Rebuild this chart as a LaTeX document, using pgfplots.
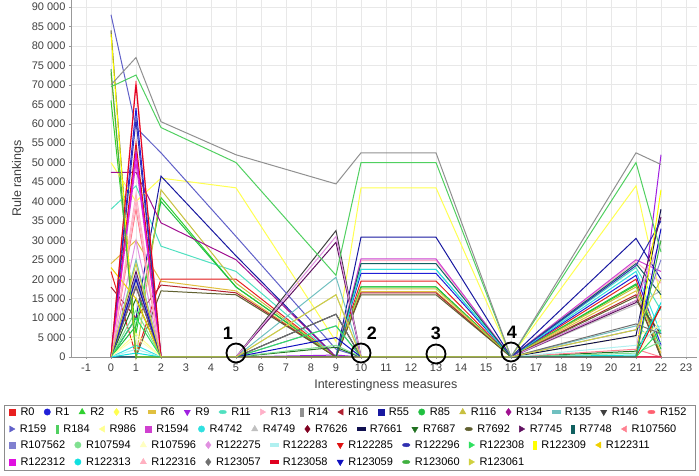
\documentclass[border=0pt]{standalone}
\usepackage{fontspec}
\setmainfont{Liberation Sans}
\usepackage{pgfplots}
\pgfplotsset{compat=1.18}
\usetikzlibrary{calc}

% series colours
\definecolor{cR0}{HTML}{E82020}
\definecolor{cR1}{HTML}{2020D8}
\definecolor{cR2}{HTML}{30D030}
\definecolor{cR5}{HTML}{FFFF50}
\definecolor{cR6}{HTML}{E0C040}
\definecolor{cR9}{HTML}{A020E0}
\definecolor{cR11}{HTML}{50E0C0}
\definecolor{cR13}{HTML}{FFB0C8}
\definecolor{cR14}{HTML}{909090}
\definecolor{cR16}{HTML}{B02030}
\definecolor{cR55}{HTML}{1818A0}
\definecolor{cR85}{HTML}{20C040}
\definecolor{cR116}{HTML}{C8C040}
\definecolor{cR134}{HTML}{A01090}
\definecolor{cR135}{HTML}{70C0C0}
\definecolor{cR146}{HTML}{404040}
\definecolor{cR152}{HTML}{FF6070}
\definecolor{cR159}{HTML}{6060C8}
\definecolor{cR184}{HTML}{50D060}
\definecolor{cR986}{HTML}{FFFF90}
\definecolor{cR1594}{HTML}{D040D0}
\definecolor{cR4742}{HTML}{30E0E0}
\definecolor{cR4749}{HTML}{C0C0C0}
\definecolor{cR7626}{HTML}{800020}
\definecolor{cR7661}{HTML}{101050}
\definecolor{cR7687}{HTML}{207020}
\definecolor{cR7692}{HTML}{606030}
\definecolor{cR7745}{HTML}{601060}
\definecolor{cR7748}{HTML}{106060}
\definecolor{cR107560}{HTML}{FF8090}
\definecolor{cR107562}{HTML}{8080D0}
\definecolor{cR107594}{HTML}{80E090}
\definecolor{cR107596}{HTML}{FFFFC0}
\definecolor{cR122275}{HTML}{E090E0}
\definecolor{cR122283}{HTML}{B0F0F0}
\definecolor{cR122285}{HTML}{E01010}
\definecolor{cR122296}{HTML}{3030B0}
\definecolor{cR122308}{HTML}{30E060}
\definecolor{cR122309}{HTML}{FFFF00}
\definecolor{cR122311}{HTML}{F0D000}
\definecolor{cR122312}{HTML}{E010E0}
\definecolor{cR122313}{HTML}{10E0E0}
\definecolor{cR122316}{HTML}{FFB0C0}
\definecolor{cR123057}{HTML}{707070}
\definecolor{cR123058}{HTML}{E00020}
\definecolor{cR123059}{HTML}{1010C0}
\definecolor{cR123060}{HTML}{40B040}
\definecolor{cR123061}{HTML}{D0D040}
\definecolor{txt}{HTML}{404040}

\pgfplotsset{
  msq/.style={mark=square*, mark size=3pt},
  mci/.style={mark=*, mark size=3.2pt},
  mtu/.style={mark=triangle*, mark size=3.6pt},
  mdi/.style={mark=diamond*, mark size=3.6pt},
  mhr/.style={mark=square*, mark size=3pt, mark options={xscale=1.3,yscale=0.45}},
  mtd/.style={mark=triangle*, mark size=3.6pt, mark options={rotate=180}},
  mel/.style={mark=*, mark size=3pt, mark options={xscale=1.25,yscale=0.6}},
  mtr/.style={mark=triangle*, mark size=3.6pt, mark options={rotate=-90}},
  mvr/.style={mark=square*, mark size=3pt, mark options={xscale=0.45,yscale=1.3}},
  mtl/.style={mark=triangle*, mark size=3.6pt, mark options={rotate=90}},
  legrow/.style={
    at={(0,0)}, anchor=south west, scale only axis,
    width=626pt, height=357pt, hide axis,
    xmin=0, xmax=1, ymin=0, ymax=1,
    legend columns=-1,
    legend image code/.code={\draw[##1] plot coordinates {(0pt,0pt)};},
    legend style={draw=none, fill=none, inner sep=0pt, outer sep=0pt,
      anchor=west, at={(axis description cs:-0.0982,#1)},
      font=\fontsize{11}{13}\selectfont,
      nodes={inner sep=1.5pt},
      /tikz/every odd column/.append style={column sep=3.5pt},
      /tikz/every even column/.append style={column sep=8pt}},
  },
}
\newcommand{\li}[2]{\addlegendimage{only marks,color=c#1,m#2}\addlegendentry{#1}}

\begin{document}
\begin{tikzpicture}
\useasboundingbox (-71pt,-119pt) rectangle (628pt,357pt);
\begin{axis}[
  at={(0,0)}, anchor=south west,
  scale only axis, width=626pt, height=357pt,
  xmin=-1.6, xmax=23.44, ymin=0, ymax=91800,
  xtick={-1,0,...,23}, ytick={0,5000,...,90000},
  grid=major, grid style={draw=black!9, line width=0.6pt},
  axis x line*=bottom, axis y line*=left,
  axis line style={draw=black!40, line width=0.8pt, -},
  tick align=outside, major tick length=2pt, tick style={draw=black!40},
  scaled y ticks=false,
  /pgf/number format/1000 sep={\ },
  /pgf/number format/assume math mode=true,
  tick label style={font=\fontsize{11}{13}\selectfont, text=txt},
  xticklabel style={yshift=-1pt},
  xlabel={Interestingness measures},
  ylabel={Rule rankings},
  label style={font=\fontsize{12.5}{14}\selectfont, text=txt},
  xlabel style={at={(axis description cs:0.503,-0.078)}, anchor=center},
  ylabel style={at={(axis description cs:-0.085,0.5)}, anchor=center},
  no markers, clip=false,
  every axis plot/.append style={line width=1pt},
]
\addplot[cR0] coordinates {(0,22000)(1,500)(2,20000)(5,20000)(9,0)(10,19500)(13,19500)(16,0)(21,20000)(22,0)};
\addplot[cR1] coordinates {(0,0)(1,64000)(2,0)(5,0)(9,0)(10,21500)(13,21500)(16,0)(21,21000)(22,3000)};
\addplot[cR2] coordinates {(0,66000)(1,6000)(2,41000)(5,18000)(9,0)(10,18000)(13,18000)(16,0)(21,18500)(22,0)};
\addplot[cR5] coordinates {(0,50000)(1,40000)(2,46000)(5,43500)(9,4000)(10,43500)(13,43500)(16,0)(21,44000)(22,15000)};
\addplot[cR6] coordinates {(0,24000)(1,30000)(2,19500)(5,17000)(9,0)(10,16800)(13,16800)(16,0)(21,17000)(22,1000)};
\addplot[cR9] coordinates {(0,0)(1,53000)(2,0)(5,0)(9,500)(10,0)(13,0)(16,0)(21,0)(22,52000)};
\addplot[cR11] coordinates {(0,38000)(1,44000)(2,28500)(5,22000)(9,0)(10,22500)(13,22500)(16,0)(21,23000)(22,12000)};
\addplot[cR13] coordinates {(0,0)(1,42000)(2,0)(5,0)(9,0)(10,24800)(13,24800)(16,0)(21,24500)(22,19000)};
\addplot[cR16] coordinates {(0,18000)(1,10000)(2,18500)(5,16500)(9,0)(10,16500)(13,16500)(16,0)(21,16000)(22,0)};
\addplot[cR55] coordinates {(0,0)(1,10000)(2,46500)(5,26000)(9,0)(10,30800)(13,30800)(16,0)(21,30500)(22,20000)};
\addplot[cR85] coordinates {(0,0)(1,8000)(2,40000)(5,18000)(9,0)(10,18000)(13,18000)(16,0)(21,18800)(22,2000)};
\addplot[cR116] coordinates {(0,73000)(1,0)(2,43000)(5,19000)(9,0)(10,17500)(13,17500)(16,0)(21,18000)(22,5000)};
\addplot[cR134] coordinates {(0,47500)(1,47500)(2,34500)(5,25000)(9,0)(10,0)(13,0)(16,0)(21,0)(22,0)};
\addplot[cR135] coordinates {(0,0)(1,25000)(2,0)(5,0)(9,20500)(10,0)(13,0)(16,0)(21,8000)(22,3000)};
\addplot[cR146] coordinates {(0,0)(1,20000)(2,0)(5,0)(9,32500)(10,0)(13,0)(16,0)(21,14500)(22,6000)};
\addplot[cR152] coordinates {(0,0)(1,71000)(2,0)(5,0)(9,0)(10,0)(13,0)(16,0)(21,0)(22,0)};
\addplot[cR159] coordinates {(0,88000)(1,59000)(2,52500)(5,31000)(9,2000)(10,0)(13,0)(16,0)(21,0)(22,0)};
\addplot[cR986] coordinates {(0,0)(1,6000)(2,0)(5,0)(9,11000)(10,0)(13,0)(16,0)(21,5500)(22,8000)};
\addplot[cR1594] coordinates {(0,0)(1,50000)(2,0)(5,0)(9,0)(10,25200)(13,25200)(16,0)(21,25000)(22,22000)};
\addplot[cR4742] coordinates {(0,0)(1,3000)(2,0)(5,0)(9,0)(10,22500)(13,22500)(16,0)(21,22000)(22,6000)};
\addplot[cR4749] coordinates {(0,0)(1,19000)(2,0)(5,0)(9,16000)(10,0)(13,0)(16,0)(21,13500)(22,17000)};
\addplot[cR7626] coordinates {(0,0)(1,18000)(2,0)(5,0)(9,0)(10,0)(13,0)(16,0)(21,0)(22,0)};
\addplot[cR7661] coordinates {(0,0)(1,0)(2,0)(5,0)(9,11000)(10,0)(13,0)(16,0)(21,5500)(22,38000)};
\addplot[cR7687] coordinates {(0,0)(1,15000)(2,0)(5,0)(9,2500)(10,0)(13,0)(16,0)(21,1500)(22,13000)};
\addplot[cR7692] coordinates {(0,84000)(1,0)(2,17000)(5,16000)(9,0)(10,16000)(13,16000)(16,0)(21,15500)(22,0)};
\addplot[cR7745] coordinates {(0,0)(1,22000)(2,0)(5,0)(9,29500)(10,0)(13,0)(16,0)(21,14000)(22,36000)};
\addplot[cR7748] coordinates {(0,0)(1,0)(2,0)(5,0)(9,0)(10,24000)(13,24000)(16,0)(21,24000)(22,16000)};
\addplot[cR107560] coordinates {(0,0)(1,38000)(2,0)(5,0)(9,0)(10,0)(13,0)(16,0)(21,2000)(22,0)};
\addplot[cR107562] coordinates {(0,0)(1,21000)(2,0)(5,0)(9,8000)(10,0)(13,0)(16,0)(21,7000)(22,25000)};
\addplot[cR107594] coordinates {(0,0)(1,12000)(2,0)(5,0)(9,3000)(10,0)(13,0)(16,0)(21,1000)(22,4000)};
\addplot[cR107596] coordinates {(0,0)(1,5000)(2,0)(5,0)(9,0)(10,0)(13,0)(16,0)(21,0)(22,10000)};
\addplot[cR122275] coordinates {(0,0)(1,30000)(2,0)(5,0)(9,31000)(10,0)(13,0)(16,0)(21,14500)(22,30000)};
\addplot[cR122283] coordinates {(0,0)(1,2000)(2,0)(5,0)(9,0)(10,0)(13,0)(16,0)(21,3000)(22,8000)};
\addplot[cR122285] coordinates {(0,0)(1,55000)(2,0)(5,0)(9,0)(10,0)(13,0)(16,0)(21,0)(22,13000)};
\addplot[cR122296] coordinates {(0,0)(1,61000)(2,0)(5,0)(9,0)(10,0)(13,0)(16,0)(21,23500)(22,35000)};
\addplot[cR122308] coordinates {(0,0)(1,10000)(2,0)(5,0)(9,8000)(10,0)(13,0)(16,0)(21,0)(22,7000)};
\addplot[cR122309] coordinates {(0,83000)(1,0)(2,0)(5,0)(9,0)(10,0)(13,0)(16,0)(21,0)(22,43000)};
\addplot[cR122311] coordinates {(0,23000)(1,15000)(2,0)(5,0)(9,0)(10,0)(13,0)(16,0)(21,0)(22,0)};
\addplot[cR122312] coordinates {(0,0)(1,52000)(2,0)(5,0)(9,0)(10,0)(13,0)(16,0)(21,0)(22,0)};
\addplot[cR122313] coordinates {(0,0)(1,1000)(2,0)(5,0)(9,0)(10,0)(13,0)(16,0)(21,500)(22,14000)};
\addplot[cR122316] coordinates {(0,0)(1,40000)(2,0)(5,0)(9,0)(10,0)(13,0)(16,0)(21,0)(22,0)};
\addplot[cR123057] coordinates {(0,0)(1,18000)(2,0)(5,0)(9,11000)(10,0)(13,0)(16,0)(21,8500)(22,6000)};
\addplot[cR123058] coordinates {(0,0)(1,70000)(2,0)(5,0)(9,0)(10,0)(13,0)(16,0)(21,0)(22,0)};
\addplot[cR123059] coordinates {(0,0)(1,20000)(2,0)(5,0)(9,5000)(10,0)(13,0)(16,0)(21,0)(22,33000)};
\addplot[cR123060] coordinates {(0,74000)(1,0)(2,0)(5,0)(9,0)(10,0)(13,0)(16,0)(21,0)(22,30000)};
\addplot[cR123061] coordinates {(0,0)(1,24000)(2,0)(5,0)(9,16000)(10,0)(13,0)(16,0)(21,7000)(22,20000)};
\addplot[cR184] coordinates {(0,69500)(1,72500)(2,59000)(5,50000)(9,21000)(10,50000)(13,50000)(16,0)(21,50000)(22,27000)};
\addplot[cR14] coordinates {(0,70000)(1,77000)(2,60500)(5,52000)(9,44500)(10,52500)(13,52500)(16,0)(21,52500)(22,49500)};
% numbered markers
\begin{scope}[line width=1.8pt, font=\bfseries\fontsize{18}{18}\selectfont]
\draw ($(axis cs:5,0)+(0pt,4pt)$) circle (9.5pt);
\node at ($(axis cs:5,0)+(-8pt,24pt)$) {1};
\draw ($(axis cs:10,0)+(0pt,4pt)$) circle (9.5pt);
\node at ($(axis cs:10,0)+(11pt,24pt)$) {2};
\draw ($(axis cs:13,0)+(0pt,3pt)$) circle (9.5pt);
\node at ($(axis cs:13,0)+(0pt,24pt)$) {3};
\draw ($(axis cs:16,0)+(0pt,5pt)$) circle (9.5pt);
\node at ($(axis cs:16,0)+(1pt,25pt)$) {4};
\end{scope}
\end{axis}

% legend, four rows
\begin{axis}[legrow=-0.1541]
\li{R0}{sq}\li{R1}{ci}\li{R2}{tu}\li{R5}{di}\li{R6}{hr}\li{R9}{td}
\li{R11}{el}\li{R13}{tr}\li{R14}{vr}\li{R16}{tl}\li{R55}{sq}\li{R85}{ci}
\li{R116}{tu}\li{R134}{di}\li{R135}{hr}\li{R146}{td}\li{R152}{el}
\end{axis}
\begin{axis}[legrow=-0.2017]
\li{R159}{tr}\li{R184}{vr}\li{R986}{tl}\li{R1594}{sq}\li{R4742}{ci}
\li{R4749}{tu}\li{R7626}{di}\li{R7661}{hr}\li{R7687}{td}\li{R7692}{el}
\li{R7745}{tr}\li{R7748}{vr}\li{R107560}{tl}
\end{axis}
\begin{axis}[legrow=-0.2465]
\li{R107562}{sq}\li{R107594}{ci}\li{R107596}{tu}\li{R122275}{di}
\li{R122283}{hr}\li{R122285}{td}\li{R122296}{el}\li{R122308}{tr}
\li{R122309}{vr}\li{R122311}{tl}
\end{axis}
\begin{axis}[legrow=-0.2941]
\li{R122312}{sq}\li{R122313}{ci}\li{R122316}{tu}\li{R123057}{di}
\li{R123058}{hr}\li{R123059}{td}\li{R123060}{el}\li{R123061}{tr}
\end{axis}
\draw[black!45, line width=0.8pt] (-67pt,-48pt) rectangle (624pt,-113pt);
\end{tikzpicture}
\end{document}
